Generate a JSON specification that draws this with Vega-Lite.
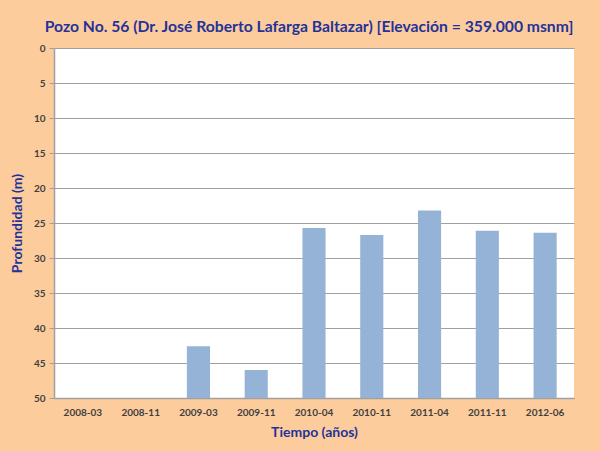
{
  "$schema": "https://vega.github.io/schema/vega-lite/v6.json",
  "width": 520,
  "height": 350,
  "autosize": {"type": "none"},
  "padding": {"left": 54, "top": 48, "right": 26, "bottom": 53},
  "background": "#FDCC9C",
  "title": {
    "text": "Pozo No. 56 (Dr. José Roberto Lafarga Baltazar) [Elevación = 359.000 msnm]",
    "font": "Lato",
    "fontSize": 15.7,
    "fontWeight": "bold",
    "color": "#1F3399",
    "anchor": "middle",
    "dx": -5,
    "offset": 7
  },
  "config": {
    "view": {"stroke": null, "fill": "white"},
    "axis": {"labelFont": "Lato", "titleFont": "Lato"}
  },
  "data": {
    "values": [
      {"fecha": "2008-03", "profundidad": null},
      {"fecha": "2008-11", "profundidad": null},
      {"fecha": "2009-03", "profundidad": 42.6},
      {"fecha": "2009-11", "profundidad": 46.0},
      {"fecha": "2010-04", "profundidad": 25.7},
      {"fecha": "2010-11", "profundidad": 26.7},
      {"fecha": "2011-04", "profundidad": 23.2},
      {"fecha": "2011-11", "profundidad": 26.1},
      {"fecha": "2012-06", "profundidad": 26.4}
    ]
  },
  "mark": {"type": "bar", "color": "#95B3D7"},
  "encoding": {
    "x": {
      "field": "fecha",
      "type": "ordinal",
      "sort": null,
      "scale": {"domain": ["2008-03","2008-11","2009-03","2009-11","2010-04","2010-11","2011-04","2011-11","2012-06"], "paddingInner": 0.6, "paddingOuter": 0.3},
      "axis": {
        "title": "Tiempo (años)",
        "titleColor": "#1F3399",
        "titleFontSize": 14,
        "titleFontWeight": "bold",
        "titlePadding": 8,
        "labelAngle": 0,
        "labelFontSize": 10,
        "labelFontWeight": "bold",
        "labelColor": "#404040",
        "labelPadding": 9,
        "ticks": false,
        "domainColor": "#A0A0A0",
        "domainWidth": 1.5
      }
    },
    "y": {
      "field": "profundidad",
      "type": "quantitative",
      "scale": {"domain": [0, 50], "reverse": true},
      "axis": {
        "title": "Profundidad (m)",
        "titleColor": "#1F3399",
        "titleFontSize": 14,
        "titleFontWeight": "bold",
        "titlePadding": 9,
        "values": [0,5,10,15,20,25,30,35,40,45,50],
        "labelFontSize": 10,
        "labelFontWeight": "bold",
        "labelColor": "#404040",
        "tickColor": "#A0A0A0",
        "tickSize": 5,
        "labelPadding": 4,
        "gridColor": "#A0A0A0",
        "gridWidth": 1,
        "domainColor": "#A0A0A0",
        "domainWidth": 1.5
      }
    },
    "y2": {"datum": 50}
  }
}
